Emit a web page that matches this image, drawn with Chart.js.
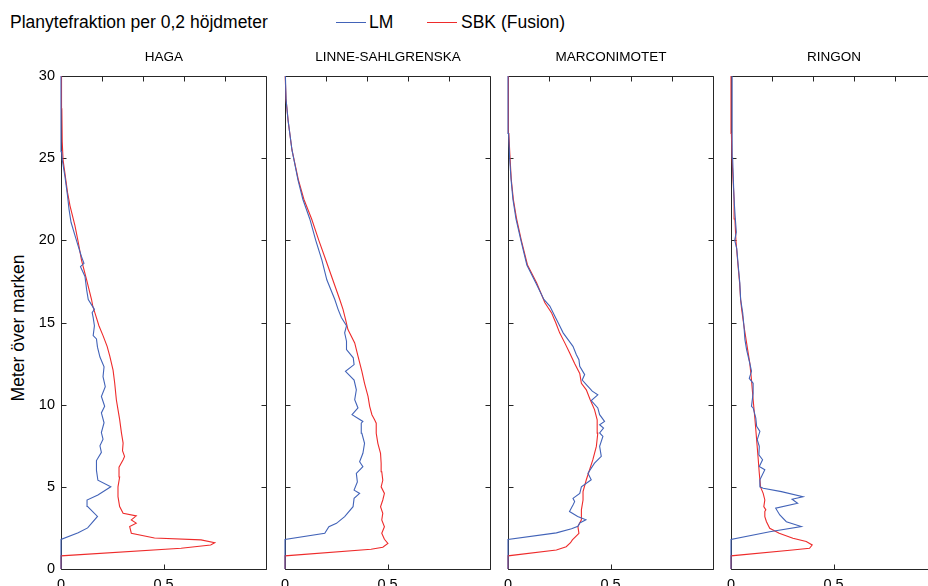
<!DOCTYPE html>
<html>
<head>
<meta charset="utf-8">
<script src="https://cdn.jsdelivr.net/npm/chart.js@4.4.1/dist/chart.umd.min.js"></script>
<style>
  html, body { margin: 0; padding: 0; overflow: hidden; background: #fff; }
  body { width: 928px; height: 586px; position: relative; font-family: "Liberation Sans", Arial, sans-serif; color: #000; }
  canvas { position: absolute; }
  .txt { position: absolute; white-space: nowrap; }
  #header { left: 10px; top: 11px; font-size: 17.5px; line-height: 22px; }
  .leg-line { position: absolute; height: 0; width: 30px; top: 22px; border-top: 1.3px solid; }
  .leg-txt { top: 11px; font-size: 17.5px; line-height: 22px; }
  .ptitle { top: 48px; font-size: 13.5px; line-height: 18px; width: 206px; text-align: center; }
  #ytitle { left: 18px; top: 328px; font-size: 17.5px; line-height: 20px; transform: translate(-50%, -50%) rotate(-90deg); }
</style>
</head>
<body>
<div id="header" class="txt">Planytefraktion per 0,2 höjdmeter</div>
<div class="leg-line" style="left:336px;border-color:#4263b8"></div>
<div class="txt leg-txt" style="left:369px">LM</div>
<div class="leg-line" style="left:427px;border-color:#ee2b2b"></div>
<div class="txt leg-txt" style="left:461px">SBK (Fusion)</div>
<div id="ytitle" class="txt">Meter över marken</div>

<script>
// ── data: [height m, fraction] ──────────────────────────
const PANEL_TITLES = ['HAGA', 'LINNE-SAHLGRENSKA', 'MARCONIMOTET', 'RINGON'];
const SERIES_NAMES = ['LM', 'SBK (Fusion)'];
const HEIGHT_TICKS = [0, 5, 10, 15, 20, 25, 30];
const FRAC_LABEL_TICKS = [0, 0.5, 1];
const FRAC_TOP_TICKS = [0.2, 0.4, 0.6, 0.8];

const HAGA_LM = [
  [0,0],[1.8,0],[2.2,0.084],[2.5,0.13],[3.2,0.178],[3.8,0.13],[4.2,0.127],[4.5,0.18],
  [5.0,0.243],[5.4,0.18],[6.0,0.173],[6.6,0.173],[7.1,0.197],[7.5,0.19],[7.9,0.205],
  [8.3,0.197],[8.9,0.21],[9.5,0.197],[9.9,0.213],[10.5,0.197],[11.1,0.216],[11.7,0.205],
  [12.3,0.21],[12.9,0.19],[13.5,0.178],[14.0,0.173],[14.2,0.157],[14.8,0.163],[15.3,0.157],
  [15.6,0.152],[15.8,0.163],[16.4,0.133],[17.0,0.125],[17.8,0.117],[18.4,0.095],[18.6,0.112],
  [19.0,0.1],[19.65,0.084],[20.3,0.068],[21.1,0.049],[21.9,0.039],[22.7,0.032],[23.9,0.019],
  [24.9,0.006],[25.4,0.003],[26,0],[30,0]
];
const HAGA_SBK = [
  [0,0],[0.8,0],[1.26,0.586],[1.46,0.73],[1.6,0.75],[1.77,0.683],[1.89,0.456],[2.18,0.343],
  [2.58,0.335],[2.79,0.367],[2.99,0.343],[3.23,0.367],[3.39,0.303],[3.8,0.286],[4.4,0.278],
  [5.0,0.278],[5.6,0.286],[6.2,0.283],[6.65,0.303],[6.85,0.31],[7.2,0.3],[7.66,0.303],
  [8.27,0.295],[9.1,0.286],[9.7,0.278],[10.3,0.27],[11.3,0.262],[12.1,0.254],[12.95,0.238],
  [13.55,0.225],[14.2,0.205],[14.8,0.185],[15.4,0.17],[16.0,0.155],[16.4,0.149],[17.6,0.125],
  [18.8,0.1],[19.9,0.084],[20.9,0.068],[22.1,0.044],[22.9,0.032],[24.1,0.019],[24.9,0.01],
  [26,0.006],[28,0.004],[29.5,0.003],[30,0.002]
];
const LINNE_LM = [
  [0,0],[1.8,0],[2.17,0.194],[2.57,0.214],[2.78,0.251],[3.19,0.291],[3.79,0.332],[4.3,0.337],
  [4.6,0.364],[4.8,0.337],[5.3,0.353],[5.82,0.348],[6.23,0.38],[6.53,0.364],[7.04,0.38],
  [7.65,0.388],[8.26,0.375],[8.87,0.372],[8.98,0.38],[9.39,0.327],[9.8,0.356],[10.3,0.34],
  [10.9,0.348],[11.5,0.337],[12.03,0.295],[12.44,0.337],[12.85,0.333],[13.35,0.3],[13.86,0.3],
  [14.37,0.291],[14.8,0.3],[15.3,0.275],[15.8,0.259],[16.4,0.243],[17.6,0.204],[18.8,0.18],
  [20,0.15],[21.3,0.121],[22.5,0.087],[23.7,0.063],[25.5,0.034],[27.3,0.015],[28.6,0.005],
  [30,0.002]
];
const LINNE_SBK = [
  [0,0],[0.8,0],[1.2,0.42],[1.32,0.477],[1.56,0.502],[1.81,0.485],[2.17,0.472],[2.57,0.485],
  [2.98,0.472],[3.39,0.477],[3.79,0.466],[4.2,0.477],[4.6,0.485],[5.0,0.469],[5.4,0.477],
  [5.92,0.472],[6.43,0.469],[7.04,0.466],[7.65,0.453],[8.26,0.445],[8.87,0.445],[9.08,0.437],
  [9.39,0.424],[9.9,0.413],[10.5,0.405],[11.3,0.388],[12.03,0.375],[12.95,0.356],[13.76,0.34],
  [14.57,0.307],[15.2,0.295],[15.8,0.283],[16.4,0.267],[17.6,0.233],[18.8,0.199],[20,0.165],
  [21.3,0.13],[22.5,0.092],[23.7,0.065],[25.5,0.034],[27.3,0.015],[28.6,0.005],[30,0.001]
];
const MARCONI_LM = [
  [0,0],[1.8,0],[2.2,0.236],[2.45,0.31],[2.6,0.341],[2.8,0.35],[2.99,0.38],[3.2,0.34],
  [3.5,0.3],[3.9,0.317],[4.1,0.325],[4.3,0.317],[4.6,0.35],[5.0,0.358],[5.43,0.406],
  [5.83,0.39],[6.44,0.422],[6.85,0.455],[7.46,0.447],[8.07,0.463],[8.28,0.447],[8.58,0.466],
  [8.78,0.447],[8.98,0.471],[9.39,0.447],[9.8,0.438],[10.25,0.406],[10.6,0.438],[10.82,0.411],
  [11.22,0.382],[11.5,0.362],[11.83,0.374],[12.33,0.35],[12.74,0.346],[13.05,0.333],
  [13.55,0.317],[13.96,0.293],[14.37,0.269],[14.8,0.252],[15.4,0.228],[16.0,0.204],
  [16.4,0.175],[17.4,0.136],[18.5,0.092],[20,0.063],[21.3,0.039],[22.5,0.024],[23.7,0.015],
  [25,0.008],[26.5,0.003],[27.5,0],[30,0]
];
const MARCONI_SBK = [
  [0,0],[0.8,0],[1.16,0.236],[1.36,0.284],[1.6,0.305],[1.77,0.314],[2.17,0.346],[2.58,0.341],
  [2.99,0.358],[3.6,0.358],[4.2,0.366],[4.71,0.366],[5.43,0.382],[6.04,0.398],[6.65,0.414],
  [7.46,0.431],[8.27,0.438],[9.08,0.435],[9.7,0.422],[10.3,0.401],[10.9,0.382],[11.3,0.358],
  [11.9,0.35],[12.5,0.325],[13.15,0.301],[13.76,0.277],[14.37,0.252],[14.98,0.233],[15.6,0.212],
  [16.2,0.18],[17.4,0.14],[18.5,0.095],[20,0.065],[21.3,0.042],[22.5,0.026],[23.7,0.016],
  [25,0.01],[26.5,0.004],[28,0.002],[30,0.002]
];
const RINGON_LM = [
  [0,0],[1.8,0],[2.27,0.189],[2.58,0.343],[2.88,0.27],[3.29,0.238],[3.7,0.218],[4.0,0.325],
  [4.25,0.298],[4.4,0.351],[4.71,0.246],[4.91,0.157],[5.0,0.141],[5.43,0.141],[6.04,0.165],
  [6.24,0.138],[6.65,0.154],[6.95,0.136],[7.46,0.138],[7.87,0.128],[8.37,0.141],[8.68,0.125],
  [9.19,0.121],[9.8,0.108],[9.9,0.1],[10.7,0.108],[11.3,0.108],[11.6,0.089],[12.03,0.1],
  [12.5,0.092],[13.35,0.076],[13.96,0.068],[14.8,0.063],[15.6,0.057],[16.4,0.047],[17.4,0.043],
  [18.5,0.035],[19.5,0.028],[20,0.018],[20.5,0.026],[21.5,0.02],[22.5,0.015],[23.5,0.012],
  [25,0.008],[27,0.006],[30,0.005]
];
const RINGON_SBK = [
  [0,0],[0.8,0],[1.16,0.3],[1.26,0.383],[1.46,0.396],[1.67,0.367],[1.87,0.302],[2.17,0.235],
  [2.48,0.189],[2.88,0.173],[3.19,0.165],[3.5,0.165],[3.6,0.17],[3.8,0.16],[4.2,0.165],
  [4.6,0.157],[5.0,0.144],[5.83,0.138],[6.65,0.133],[7.87,0.125],[9.08,0.117],[10.3,0.108],
  [11.5,0.1],[12.5,0.092],[13.76,0.076],[14.8,0.063],[15.8,0.052],[16.4,0.047],[17.4,0.042],
  [18.5,0.034],[20,0.024],[21.3,0.019],[22.5,0.015],[23.7,0.01],[25,0.005],[26.5,0.002],
  [28,0],[30,0]
];
const PANEL_SERIES = [
  [HAGA_LM, HAGA_SBK],
  [LINNE_LM, LINNE_SBK],
  [MARCONI_LM, MARCONI_SBK],
  [RINGON_LM, RINGON_SBK]
];

// ── layout ──────────────────────────────────────────────
const PLOT_LEFTS = [61, 285, 508, 731];
const PLOT_W = 206;
const PLOT_TOP = 76;
const PLOT_BOTTOM = 569;
const CANVAS_TOP = 60;
const COLORS = ['#4263b8', '#ee2b2b'];
const TICK_FONT = { family: '"Liberation Sans", Arial, sans-serif', size: 14.5 };

// frame + inward tick marks
const frameTicks = {
  id: 'frameTicks',
  beforeDatasetsDraw(chart) {
    const { ctx, chartArea: a, scales: { x, y } } = chart;
    const L = Math.round(a.left) + 0.5, R = Math.round(a.right) + 0.5;
    const T = Math.round(a.top) + 0.5, B = Math.round(a.bottom) + 0.5;
    const len = 5;
    ctx.save();
    ctx.strokeStyle = '#262626';
    ctx.lineWidth = 1;
    ctx.beginPath();
    ctx.rect(L, T, R - L, B - T);
    FRAC_LABEL_TICKS.forEach(v => {
      const px = Math.round(x.getPixelForValue(v)) + 0.5;
      ctx.moveTo(px, B); ctx.lineTo(px, B - len);
    });
    FRAC_TOP_TICKS.forEach(v => {
      const px = Math.round(x.getPixelForValue(v)) + 0.5;
      ctx.moveTo(px, T); ctx.lineTo(px, T + len);
    });
    HEIGHT_TICKS.forEach(v => {
      const py = Math.round(y.getPixelForValue(v)) + 0.5;
      ctx.moveTo(L, py); ctx.lineTo(L + len, py);
      ctx.moveTo(R, py); ctx.lineTo(R - len, py);
    });
    ctx.stroke();
    ctx.restore();
  }
};

// ── panels ──────────────────────────────────────────────
function makePanel(i) {
  const first = i === 0;
  const padL = first ? 61 : 12;
  const padR = 6;
  const canvas = document.createElement('canvas');
  canvas.width = padL + PLOT_W + padR;
  canvas.height = 586 - CANVAS_TOP;
  canvas.style.left = (PLOT_LEFTS[i] - padL) + 'px';
  canvas.style.top = CANVAS_TOP + 'px';
  document.body.appendChild(canvas);

  const title = document.createElement('div');
  title.className = 'txt ptitle';
  title.style.left = PLOT_LEFTS[i] + 'px';
  title.textContent = PANEL_TITLES[i];
  document.body.appendChild(title);

  const datasets = PANEL_SERIES[i].map((pts, k) => ({
    label: SERIES_NAMES[k],
    data: pts.map(([h, v]) => ({ x: v, y: h })),
    borderColor: COLORS[k],
    borderWidth: 1.1,
    pointRadius: 0,
    showLine: true,
    clip: false,
    order: k
  }));

  new Chart(canvas, {
    type: 'scatter',
    data: { datasets },
    options: {
      responsive: false,
      animation: false,
      events: [],
      layout: { padding: { left: first ? 0 : padL, right: padR, top: PLOT_TOP - CANVAS_TOP, bottom: 0 } },
      plugins: { legend: { display: false }, tooltip: { enabled: false } },
      scales: {
        x: {
          type: 'linear', position: 'bottom', min: 0, max: 1,
          afterBuildTicks: s => { s.ticks = FRAC_LABEL_TICKS.map(v => ({ value: v })); },
          ticks: {
            font: TICK_FONT, color: '#000', padding: 7, maxRotation: 0, autoSkip: false,
            callback: v => (v === 1 ? '' : String(v))
          },
          grid: { display: false, drawTicks: false },
          border: { display: false },
          afterFit: s => { s.height = 586 - PLOT_BOTTOM; }
        },
        y: {
          type: 'linear', position: 'left', min: 0, max: 30, display: first,
          afterBuildTicks: s => { s.ticks = HEIGHT_TICKS.map(v => ({ value: v })); },
          ticks: { font: TICK_FONT, color: '#000', padding: 6 },
          grid: { display: false, drawTicks: false },
          border: { display: false },
          afterFit: s => { s.width = first ? padL : 0; }
        }
      }
    },
    plugins: [frameTicks]
  });
}

PANEL_TITLES.forEach((t, i) => makePanel(i));
</script>
</body>
</html>
